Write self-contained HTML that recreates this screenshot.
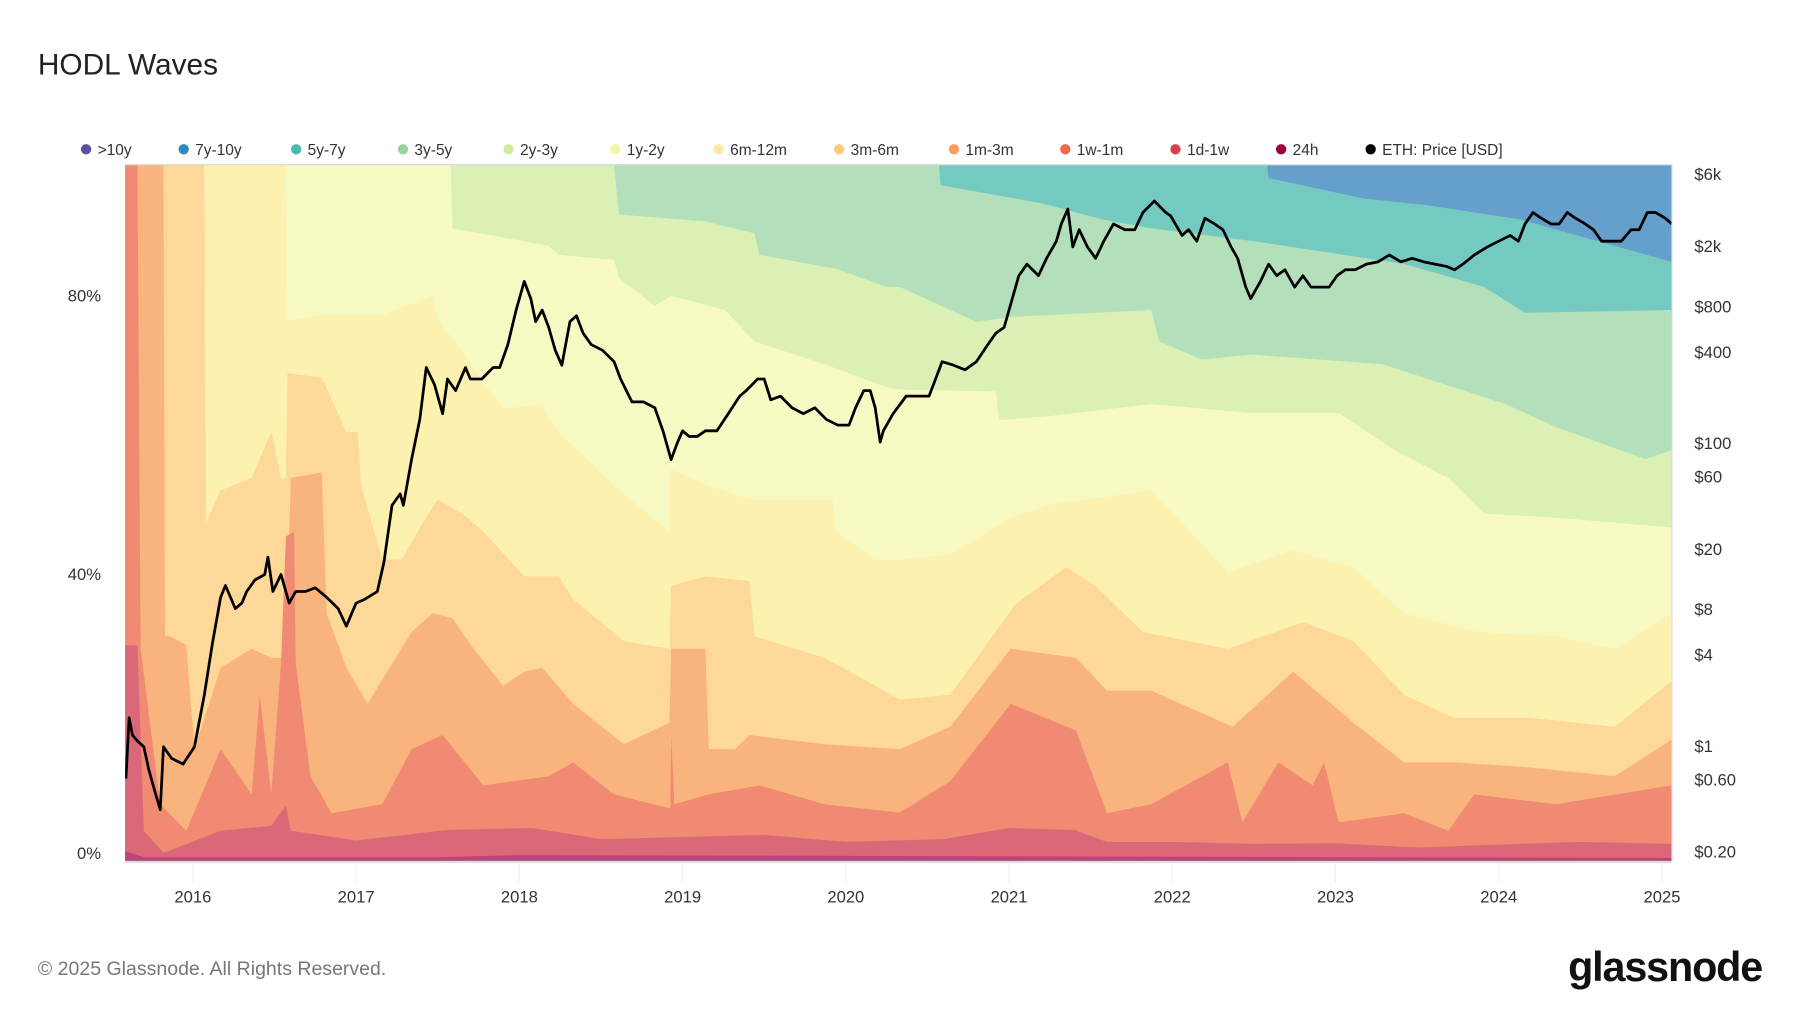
<!DOCTYPE html>
<html><head><meta charset="utf-8"><title>HODL Waves</title>
<style>
html,body{margin:0;padding:0;background:#fff;}
svg{display:block;font-family:"Liberation Sans",sans-serif;}
</style></head>
<body>
<svg id="chart" width="1800" height="1013" viewBox="0 0 1568 882" preserveAspectRatio="none" xmlns="http://www.w3.org/2000/svg">
<text x="33" y="65" font-size="26" fill="#222">HODL Waves</text>
<g id="legend"></g>
<defs><clipPath id="plotclip"><rect x="109" y="143" width="1347" height="607"/></clipPath></defs>
<g id="areas" clip-path="url(#plotclip)"></g>
<g id="price" clip-path="url(#plotclip)"></g>
<g id="axes"></g>
<text x="33" y="849" font-size="17" fill="#777">© 2025 Glassnode. All Rights Reserved.</text>
<text x="1535" y="854" font-size="36" font-weight="bold" fill="#111" text-anchor="end" letter-spacing="-1">glassnode</text>
</svg>
<script>
// ---- data: cumulative upper boundary (%) of each age band ----
const top5y7y=[[2015.58,100],[2022.58,100],[2022.59,98.0],[2023.17,95.1],[2023.57,94.1],[2024.13,92.1],[2025.06,86.0]];
const top3y5y=[[2015.58,100],[2020.57,100],[2020.58,97.0],[2021.20,94.4],[2021.57,92.1],[2021.87,90.8],[2022.49,89.0],[2023.42,85.7],[2023.91,82.4],[2024.16,78.7],[2025.06,79.1]];
const top2y3y=[[2015.58,100],[2018.58,100],[2018.61,92.8],[2019.14,91.8],[2019.44,90.1],[2019.47,87.0],[2019.94,85.0],[2020.25,82.4],[2020.33,82.4],[2020.80,77.4],[2021.01,78.1],[2021.87,79.1],[2021.92,74.6],[2022.18,72.0],[2022.49,72.7],[2023.29,71.3],[2024.04,65.6],[2024.35,62.3],[2024.90,57.7],[2025.06,59.0]];
const top1y2y=[[2015.58,100],[2017.58,100],[2017.59,90.8],[2018.18,88.3],[2018.24,87.0],[2018.58,86.3],[2018.61,83.7],[2018.83,79.7],[2018.93,81.1],[2019.26,79.1],[2019.44,74.6],[2019.87,71.3],[2020.25,68.0],[2020.33,67.7],[2020.92,67.4],[2020.94,63.3],[2021.26,63.9],[2021.87,65.6],[2022.49,64.3],[2023.02,64.3],[2023.36,59.0],[2023.69,55.0],[2023.91,49.9],[2024.35,49.3],[2025.06,47.9]];
const top6m12m=[[2015.58,100],[2016.57,100],[2016.58,77.6],[2016.79,78.4],[2017.16,78.4],[2017.47,81.1],[2017.50,77.9],[2017.90,64.9],[2018.14,65.6],[2018.24,61.6],[2018.58,53.9],[2018.92,47.3],[2018.925,56.3],[2019.16,53.9],[2019.41,51.9],[2019.92,51.9],[2019.94,47.3],[2020.18,43.3],[2020.33,43.3],[2020.64,44.0],[2021.01,49.3],[2021.26,51.2],[2021.87,53.2],[2022.06,48.6],[2022.34,41.5],[2022.74,44.6],[2023.11,42.2],[2023.42,35.6],[2023.88,32.9],[2024.35,32.3],[2024.71,30.5],[2025.06,35.6]];
const top3m6m=[[2015.58,100],[2016.07,100],[2016.08,48.6],[2016.17,53.2],[2016.36,55.0],[2016.48,61.6],[2016.54,55.0],[2016.57,55.0],[2016.58,70.0],[2016.79,69.4],[2016.94,61.6],[2017.01,61.6],[2017.03,53.9],[2017.16,43.3],[2017.28,43.3],[2017.41,48.6],[2017.50,51.9],[2017.65,49.9],[2017.78,47.3],[2018.03,40.9],[2018.24,40.9],[2018.33,37.6],[2018.64,31.6],[2018.92,30.5],[2018.93,39.5],[2019.14,40.9],[2019.41,40.2],[2019.44,32.3],[2019.87,29.2],[2020.18,25.2],[2020.33,23.2],[2020.64,23.9],[2021.04,36.9],[2021.35,42.2],[2021.53,39.5],[2021.82,32.9],[2022.34,30.5],[2022.80,34.3],[2023.11,31.6],[2023.42,23.9],[2023.73,20.6],[2024.19,20.6],[2024.71,19.3],[2025.06,25.9]];
const top1m3m=[[2015.58,100],[2015.82,100],[2015.83,32.3],[2015.86,32.3],[2015.96,31.0],[2016.01,16.1],[2016.17,27.8],[2016.36,30.5],[2016.48,29.2],[2016.57,29.2],[2016.60,55.0],[2016.79,55.8],[2016.82,35.6],[2016.94,27.8],[2017.07,22.6],[2017.34,32.9],[2017.47,35.6],[2017.59,34.9],[2017.72,30.5],[2017.90,25.2],[2018.03,27.2],[2018.14,27.8],[2018.33,22.6],[2018.64,16.8],[2018.92,19.9],[2018.93,30.5],[2019.14,30.5],[2019.16,16.1],[2019.32,16.1],[2019.41,18.1],[2019.87,16.8],[2020.33,16.1],[2020.64,19.3],[2021.01,30.5],[2021.41,29.2],[2021.60,24.5],[2021.87,24.5],[2022.37,19.3],[2022.74,27.2],[2023.11,19.9],[2023.42,14.2],[2023.73,14.2],[2024.19,13.5],[2024.71,12.2],[2025.06,17.5]];
const top1w1m=[[2015.58,100],[2015.66,100],[2015.68,30.5],[2015.80,8.2],[2015.96,4.4],[2016.17,16.1],[2016.36,9.6],[2016.41,23.9],[2016.48,9.6],[2016.54,28.5],[2016.57,46.6],[2016.62,47.3],[2016.63,28.5],[2016.72,12.2],[2016.85,6.9],[2017.16,8.2],[2017.34,16.1],[2017.53,18.1],[2017.78,10.9],[2018.18,12.2],[2018.33,14.2],[2018.58,9.6],[2018.925,7.6],[2018.93,18.1],[2018.95,8.2],[2019.16,9.6],[2019.47,10.9],[2019.87,8.2],[2020.33,7.0],[2020.64,11.5],[2021.01,22.6],[2021.41,18.8],[2021.60,6.9],[2021.87,8.2],[2022.34,14.2],[2022.43,5.6],[2022.65,14.2],[2022.86,10.9],[2022.93,14.2],[2023.02,5.6],[2023.42,6.9],[2023.69,4.4],[2023.85,9.6],[2024.35,8.2],[2025.06,10.9]];
const top1d1w=[[2015.58,31],[2015.66,31],[2015.70,4.4],[2015.82,1.2],[2016.17,4.4],[2016.48,5.1],[2016.57,8],[2016.60,4.4],[2017.0,3],[2017.3,3.8],[2017.55,4.5],[2018.08,4.8],[2018.5,3.2],[2019.0,3.5],[2019.5,3.8],[2020.0,2.8],[2020.6,3.2],[2021.0,4.8],[2021.4,4.5],[2021.6,2.8],[2022.0,2.8],[2022.5,2.5],[2023.0,2.6],[2023.5,2.0],[2024.0,2.4],[2024.5,2.8],[2025.06,2.5]];
const top24h=[[2015.58,1.5],[2015.7,0.6],[2017.5,0.6],[2018.0,0.9],[2025.06,0.5]];
const top7y10y=[[2015.58,100],[2025.06,100]];

const priceDates=[2015.59,2015.61,2015.63,2015.66,2015.70,2015.73,2015.77,2015.80,2015.82,2015.87,2015.94,2016.01,2016.07,2016.12,2016.17,2016.20,2016.26,2016.30,2016.33,2016.38,2016.44,2016.46,2016.49,2016.54,2016.59,2016.63,2016.69,2016.75,2016.82,2016.89,2016.94,2017.00,2017.05,2017.13,2017.17,2017.22,2017.27,2017.29,2017.34,2017.39,2017.43,2017.48,2017.53,2017.56,2017.61,2017.67,2017.70,2017.77,2017.84,2017.88,2017.93,2017.98,2018.03,2018.07,2018.10,2018.14,2018.18,2018.22,2018.26,2018.31,2018.35,2018.39,2018.44,2018.51,2018.58,2018.62,2018.69,2018.76,2018.83,2018.88,2018.93,2018.97,2019.00,2019.04,2019.09,2019.14,2019.21,2019.28,2019.35,2019.39,2019.46,2019.50,2019.54,2019.60,2019.67,2019.74,2019.81,2019.88,2019.95,2020.02,2020.06,2020.11,2020.15,2020.18,2020.21,2020.23,2020.29,2020.37,2020.44,2020.51,2020.55,2020.59,2020.66,2020.73,2020.80,2020.87,2020.92,2020.97,2021.01,2021.06,2021.11,2021.18,2021.23,2021.29,2021.32,2021.36,2021.39,2021.43,2021.48,2021.53,2021.58,2021.64,2021.71,2021.77,2021.82,2021.89,2021.96,2021.99,2022.06,2022.10,2022.15,2022.20,2022.26,2022.31,2022.36,2022.40,2022.45,2022.48,2022.54,2022.59,2022.64,2022.69,2022.75,2022.80,2022.85,2022.91,2022.96,2023.01,2023.06,2023.12,2023.19,2023.26,2023.33,2023.40,2023.47,2023.54,2023.61,2023.68,2023.73,2023.78,2023.85,2023.93,2024.00,2024.07,2024.12,2024.16,2024.21,2024.26,2024.32,2024.37,2024.42,2024.47,2024.53,2024.58,2024.63,2024.70,2024.75,2024.81,2024.86,2024.91,2024.96,2025.02,2025.06];
const priceValues=[0.61,1.54,1.18,1.08,0.99,0.70,0.49,0.38,0.99,0.83,0.76,0.99,2.18,4.8,9.6,11.5,8.1,8.8,10.5,12.5,13.6,17.7,10.5,13.6,8.8,10.5,10.5,11.1,9.6,8.1,6.2,8.8,9.3,10.5,16.3,38.9,46.4,38.9,78,144,317,244,157,266,223,317,266,266,317,317,449,759,1175,904,637,759,584,412,328,637,695,535,449,412,346,266,188,188,172,121,78,102,121,111,111,121,121,157,205,223,266,266,194,205,172,157,172,144,132,132,172,223,223,172,102,121,157,205,205,205,266,346,328,306,346,449,535,584,828,1282,1527,1282,1667,2163,2813,3531,1983,2577,1983,1667,2163,2813,2577,2577,3350,3990,3350,3178,2361,2577,2163,3070,2813,2577,1983,1667,1076,904,1175,1527,1282,1400,1076,1282,1076,1076,1076,1282,1400,1400,1527,1581,1755,1581,1667,1581,1527,1473,1400,1527,1755,1983,2163,2361,2163,2813,3350,3070,2813,2813,3350,3070,2813,2577,2163,2163,2163,2577,2577,3350,3350,3070,2813];

const yearTicks=[2016,2017,2018,2019,2020,2021,2022,2023,2024,2025];
const pctTicks=[0,40,80];
const priceTicks=[6000,2000,800,400,100,60,20,8,4,1,0.6,0.2];
const priceTickLabels=["$6k","$2k","$800","$400","$100","$60","$20","$8","$4","$1","$0.60","$0.20"];
const legendNames=[">10y","7y-10y","5y-7y","3y-5y","2y-3y","1y-2y","6m-12m","3m-6m","1m-3m","1w-1m","1d-1w","24h","ETH: Price [USD]"];
const legendColors=["#5e4fa2","#3288bd","#4fb9ae","#97d4a0","#cfeba0","#f5f5aa","#fde9a0","#fdc97a","#f99d5a","#f2694a","#d8404f","#9e0142","#000"];

// ---- scales ----
const NS="http://www.w3.org/2000/svg";
const X0=109,X1=1456;
function xs(d){return 168+(d-2016)*142.2;}
function ys(p){return 750-p*6.07;}
function yp(v){return 386-131.8*Math.log10(v/100);}
function mk(tag,attrs,parent){const e=document.createElementNS(NS,tag);for(const k in attrs)e.setAttribute(k,attrs[k]);parent.appendChild(e);return e;}

// ---- areas (drawn top band first, each filled down to 0) ----
const areaG=document.getElementById('areas');
const layers=[
 {name:'band-7y-10y',data:top7y10y,color:'#64a0cb'},
 {name:'band-5y-7y',data:top5y7y,color:'#74c9c1'},
 {name:'band-3y-5y',data:top3y5y,color:'#b3dfbb'},
 {name:'band-2y-3y',data:top2y3y,color:'#daf0b4'},
 {name:'band-1y-2y',data:top1y2y,color:'#f7f9c3'},
 {name:'band-6m-12m',data:top6m12m,color:'#fdf1b0'},
 {name:'band-3m-6m',data:top3m6m,color:'#fdd898'},
 {name:'band-1m-3m',data:top1m3m,color:'#f9b47e'},
 {name:'band-1w-1m',data:top1w1m,color:'#f08a73'},
 {name:'band-1d-1w',data:top1d1w,color:'#db6878'},
 {name:'band-24h',data:top24h,color:'#b8467a'}
];
layers.forEach(L=>{
  let d='M'+xs(L.data[0][0]).toFixed(1)+','+ys(0);
  L.data.forEach(pt=>{d+=' L'+xs(pt[0]).toFixed(1)+','+ys(pt[1]).toFixed(1);});
  d+=' L'+xs(L.data[L.data.length-1][0]).toFixed(1)+','+ys(0)+' Z';
  const p=mk('path',{d:d,fill:L.color},areaG);
  
  
});

// ---- price line ----
const priceG=document.getElementById('price');
let pd='';
priceDates.forEach((d,i)=>{pd+=(i?' L':'M')+xs(d).toFixed(1)+','+yp(priceValues[i]).toFixed(1);});
const line=mk('path',{d:pd,fill:'none',stroke:'#000','stroke-width':2.4,'stroke-linejoin':'round'},priceG);



// ---- axes ----
const ax=document.getElementById('axes');
const frame=mk('path',{d:'M109,143.5 H1456.5 V750',fill:'none',stroke:'#ddd','stroke-width':1},ax);


const xline=mk('line',{x1:109,x2:1456,y1:750.5,y2:750.5,stroke:'#ddd','stroke-width':2},ax);


yearTicks.forEach(yr=>{
  const g=mk('line',{x1:xs(yr),x2:xs(yr),y1:751,y2:768,stroke:'#eee','stroke-width':1},ax);
  
  
  const t=mk('text',{x:xs(yr),y:786,'font-size':14.5,fill:'#333','text-anchor':'middle'},ax);
  t.textContent=yr;
  
  
});
pctTicks.forEach(p=>{
  const t=mk('text',{x:88,y:ys(p)-2,'font-size':14.5,fill:'#333','text-anchor':'end'},ax);
  t.textContent=p+'%';
  
  
});
priceTicks.forEach((v,i)=>{
  const t=mk('text',{x:1476,y:yp(v)+5,'font-size':14.5,fill:'#333'},ax);
  t.textContent=priceTickLabels[i];
  
  
});

// ---- legend ----
const lg=document.getElementById('legend');
const legendX=[75,160,258,351,443,536,626,731,831,928,1024,1116,1194];
legendNames.forEach((n,i)=>{
  const g=mk('g',{},lg);
  
  
  mk('circle',{cx:legendX[i],cy:130,r:4.5,fill:legendColors[i]},g);
  const t=mk('text',{x:legendX[i]+10,y:135,'font-size':13.5,fill:'#333'},g);
  t.textContent=n;
});
</script>
</body></html>
